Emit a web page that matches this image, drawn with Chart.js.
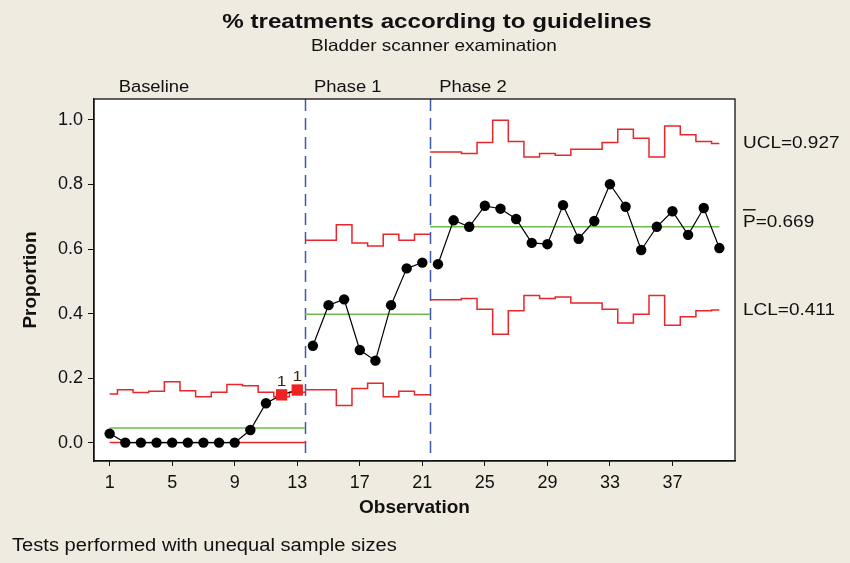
<!DOCTYPE html>
<html>
<head>
<meta charset="utf-8">
<title>% treatments according to guidelines</title>
<script src="https://cdn.jsdelivr.net/npm/chart.js@4/dist/chart.umd.min.js"></script>
<style>
  html, body { margin: 0; padding: 0; background: #efebe1; }
  #wrap { width: 850px; height: 563px; }
</style>
</head>
<body>
<div id="wrap"><canvas id="chart" width="850" height="563"></canvas></div>
<script>
// P chart, three phases, limits vary with sample size

const observations = [1, 2, 3, 4, 5, 6, 7, 8, 9, 10, 11, 12, 13, 14, 15, 16, 17, 18, 19, 20,
                      21, 22, 23, 24, 25, 26, 27, 28, 29, 30, 31, 32, 33, 34, 35, 36, 37, 38, 39, 40];
const proportion = [0.028, 0, 0, 0, 0, 0, 0, 0, 0, 0.039, 0.122, 0.148, 0.163,
                    0.300, 0.426, 0.444, 0.287, 0.254, 0.426, 0.540, 0.558,
                    0.553, 0.689, 0.669, 0.734, 0.725, 0.693, 0.619, 0.615, 0.736, 0.632,
                    0.687, 0.801, 0.731, 0.597, 0.669, 0.717, 0.644, 0.727, 0.603];
const ucl = [0.151, 0.164, 0.155, 0.159, 0.189, 0.161, 0.142, 0.156, 0.180, 0.176, 0.156, 0.142, 0.156,
             0.627, 0.627, 0.675, 0.619, 0.609, 0.646, 0.627, 0.646,
             0.901, 0.901, 0.896, 0.930, 0.999, 0.933, 0.885, 0.896, 0.891, 0.909,
             0.909, 0.930, 0.971, 0.943, 0.885, 0.981, 0.954, 0.933, 0.927];
const lcl = [0, 0, 0, 0, 0, 0, 0, 0, 0, 0, 0, 0, 0,
             0.164, 0.164, 0.115, 0.168, 0.184, 0.142, 0.159, 0.148,
             0.443, 0.443, 0.447, 0.413, 0.336, 0.409, 0.456, 0.447, 0.451, 0.433,
             0.433, 0.413, 0.371, 0.398, 0.456, 0.364, 0.390, 0.409, 0.411];
const phaseNames = ['Baseline', 'Phase 1', 'Phase 2'];
const phaseStart = [1, 14, 22];
const centerLine = [0.045, 0.398, 0.669];
const flagged = [12, 13];   // failed test 1
const xTicks = [1, 5, 9, 13, 17, 21, 25, 29, 33, 37];
const yTicks = [0, 0.2, 0.4, 0.6, 0.8, 1.0];

const FONT = '"Liberation Sans", Arial, Helvetica, sans-serif';
const BG = '#efebe1';
const RED = '#e8262b';
const GREEN = '#6dbb4a';
const BLUE = '#3c5aa8';
const SX = 1.15;   // text in the original is a bit wide

Chart.defaults.font.family = FONT;
Chart.defaults.color = '#111';

const phases = phaseNames.map((name, i) => {
  const first = phaseStart[i];
  const last = i < phaseStart.length - 1 ? phaseStart[i + 1] - 1 : observations.length;
  return {
    name, first, last,
    from: i === 0 ? first : first - 0.5,
    to: i === phaseStart.length - 1 ? last : last + 0.5,
    cl: centerLine[i],
  };
});

// step line: each value holds from halfway before its observation to halfway after
function stepPoints(limits, ph) {
  const pts = [{ x: ph.from, y: limits[ph.first - 1] }];
  for (let k = ph.first + 1; k <= ph.last; k++) pts.push({ x: k - 0.5, y: limits[k - 1] });
  pts.push({ x: ph.to, y: limits[ph.last - 1] });
  return pts;
}

const isFlag = ctx => ctx.raw && flagged.includes(ctx.raw.x);

const datasets = [];
phases.forEach(ph => {
  datasets.push({
    label: ph.name,
    data: observations.filter(k => k >= ph.first && k <= ph.last).map(k => ({ x: k, y: proportion[k - 1] })),
    borderColor: '#000',
    borderWidth: 1.2,
    pointStyle: ctx => isFlag(ctx) ? 'rect' : 'circle',
    pointRadius: ctx => isFlag(ctx) ? 8 : 5.2,
    pointBackgroundColor: ctx => isFlag(ctx) ? '#ee2222' : '#000',
    pointBorderWidth: 0,
    order: 0,
  });
});
phases.forEach(ph => {
  datasets.push({ label: 'UCL', data: stepPoints(ucl, ph), stepped: true, borderColor: RED, borderWidth: 1.5, pointRadius: 0, order: 2 });
  datasets.push({ label: 'LCL', data: stepPoints(lcl, ph), stepped: true, borderColor: RED, borderWidth: 1.5, pointRadius: 0, order: 2 });
  datasets.push({ label: 'CL', data: [{ x: ph.from, y: ph.cl }, { x: ph.to, y: ph.cl }], borderColor: GREEN, borderWidth: 1.5, pointRadius: 0, order: 1 });
});

function wideText(ctx, text, x, y, size, opts = {}) {
  ctx.save();
  ctx.font = (opts.bold ? 'bold ' : '') + size + 'px ' + FONT;
  ctx.fillStyle = opts.color || '#111';
  ctx.textAlign = opts.align || 'left';
  ctx.textBaseline = opts.baseline || 'alphabetic';
  ctx.translate(x, y);
  ctx.scale(SX, 1);
  ctx.fillText(text, 0, 0);
  const w = ctx.measureText(text).width * SX;
  ctx.restore();
  return w;
}

const decor = {
  id: 'decor',
  beforeDraw(chart) {
    const { ctx, chartArea: a } = chart;
    ctx.save();
    ctx.fillStyle = BG;
    ctx.fillRect(0, 0, chart.width, chart.height);
    ctx.fillStyle = '#fff';
    ctx.fillRect(a.left, a.top, a.right - a.left, a.bottom - a.top);
    ctx.restore();
  },
  beforeDatasetsDraw(chart) {
    const { ctx, chartArea: a, scales: { x } } = chart;
    ctx.save();
    ctx.strokeStyle = BLUE;
    ctx.lineWidth = 1.5;
    ctx.setLineDash([12, 7]);
    phases.slice(1).forEach(ph => {
      const px = Math.round(x.getPixelForValue(ph.from)) + 0.5;
      ctx.beginPath();
      ctx.moveTo(px, a.top);
      ctx.lineTo(px, a.bottom);
      ctx.stroke();
    });
    ctx.restore();
  },
  afterDraw(chart) {
    const { ctx, chartArea: a, scales: { x, y } } = chart;
    ctx.save();
    ctx.strokeStyle = '#111';
    ctx.lineWidth = 1.3;
    ctx.strokeRect(a.left, a.top, a.right - a.left, a.bottom - a.top);
    ctx.restore();

    // titles
    wideText(ctx, '% treatments according to guidelines', 437, 28, 21, { bold: true, align: 'center' });
    wideText(ctx, 'Bladder scanner examination', 434, 51, 16.5, { align: 'center' });

    // phase names above the plot
    phases.forEach(ph => {
      wideText(ctx, ph.name, x.getPixelForValue(ph.from) + 9, 92, 16);
    });

    // test 1 failures
    flagged.forEach(k => {
      wideText(ctx, '1', x.getPixelForValue(k), y.getPixelForValue(proportion[k - 1]) - 9, 15,
        { align: 'center', color: '#3a2a10' });
    });

    // limit labels for the last phase
    const lx = a.right + 8;
    const last = observations.length - 1;
    wideText(ctx, 'UCL=' + ucl[last].toFixed(3), lx, y.getPixelForValue(ucl[last]), 16.5, { baseline: 'middle' });
    wideText(ctx, 'LCL=' + lcl[last].toFixed(3), lx, y.getPixelForValue(lcl[last]), 16.5, { baseline: 'middle' });
    const cl = centerLine[centerLine.length - 1];
    const py = y.getPixelForValue(cl) - 4;
    wideText(ctx, 'P=' + cl.toFixed(3), lx, py, 16.5, { baseline: 'middle' });
    ctx.save();
    ctx.font = '16.5px ' + FONT;
    const pw = ctx.measureText('P').width * SX;
    ctx.strokeStyle = '#111';
    ctx.lineWidth = 1.4;
    ctx.beginPath();
    ctx.moveTo(lx, py - 13);
    ctx.lineTo(lx + pw, py - 13);
    ctx.stroke();
    ctx.restore();

    wideText(ctx, 'Tests performed with unequal sample sizes', 12, 551, 17.5);
  },
};

new Chart(document.getElementById('chart'), {
  type: 'line',
  data: { datasets },
  options: {
    responsive: false,
    animation: false,
    events: [],
    layout: { padding: { left: 0, top: 99, right: 115, bottom: 32 } },
    plugins: { legend: { display: false }, tooltip: { enabled: false } },
    scales: {
      x: {
        type: 'linear',
        min: 0,
        max: 41,
        afterBuildTicks: s => { s.ticks = xTicks.map(v => ({ value: v })); },
        afterFit: s => { s.height = 70; },
        ticks: { color: '#111', font: { size: 18 }, padding: 6, autoSkip: false, maxRotation: 0 },
        grid: { drawOnChartArea: false, drawTicks: true, tickLength: 5, color: '#111' },
        border: { display: true, color: '#111', width: 1.3 },
        title: { display: true, text: 'Observation', color: '#111', font: { size: 19, weight: 'bold' }, padding: 12 },
      },
      y: {
        min: -0.057,
        max: 1.065,
        afterBuildTicks: s => { s.ticks = yTicks.map(v => ({ value: v })); },
        afterFit: s => { s.width = 94; },
        ticks: { color: '#111', font: { size: 18 }, padding: 5, callback: v => v.toFixed(1) },
        grid: { drawOnChartArea: false, drawTicks: true, tickLength: 6, color: '#111' },
        border: { display: true, color: '#111', width: 1.3 },
        title: { display: true, text: 'Proportion', color: '#111', font: { size: 19, weight: 'bold' }, padding: 19 },
      },
    },
  },
  plugins: [decor],
});
</script>
</body>
</html>
